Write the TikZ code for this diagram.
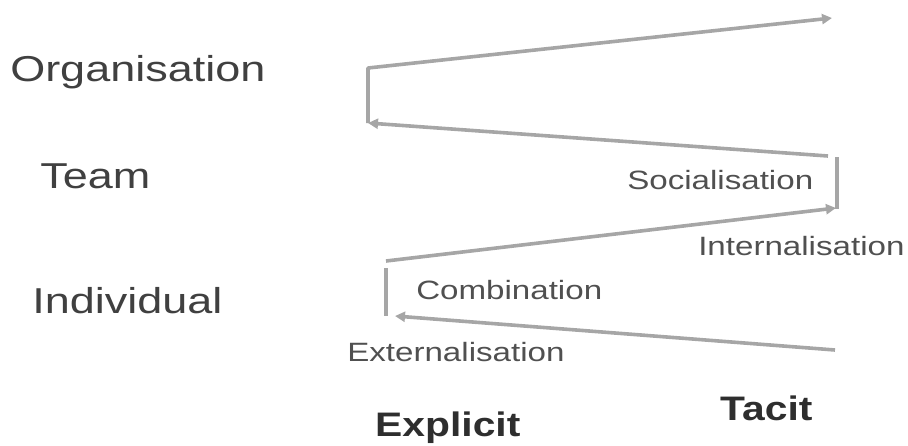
\documentclass[tikz,border=0pt]{standalone}
\usepackage{fontspec}
\setmainfont{Liberation Sans}
\usetikzlibrary{arrows.meta}
\definecolor{flowgray}{HTML}{A6A6A6}
\definecolor{labelgray}{HTML}{404040}
\definecolor{smallgray}{HTML}{505050}
\definecolor{axisdark}{HTML}{2E2E2E}
\tikzset{
  levellabel/.style={anchor=base west, inner sep=0pt, xscale=1.25, text=labelgray,
    font=\fontsize{36}{40}\selectfont},
  modelabel/.style={anchor=base west, inner sep=0pt, xscale=1.25, text=smallgray,
    font=\fontsize{26.5}{30}\selectfont},
  axislabel/.style={anchor=base west, inner sep=0pt, xscale=1.2, text=axisdark,
    font=\bfseries\fontsize{34}{38}\selectfont},
  flow/.style={draw=flowgray, line width=3.6pt, line join=round},
  flowarrow/.style={flow, -{Triangle[length=10pt,width=10pt]}},
}
\begin{document}
\begin{tikzpicture}[x=1pt, y=-1pt]
  \useasboundingbox (0,0) rectangle (908,445);

  % knowledge levels
  \node[levellabel] (org) at (10,81) {Organisation};
  \node[levellabel] (team) at (40,188) {Team};
  \node[levellabel] (ind) at (32,313) {Individual};

  % conversion modes
  \node[modelabel] (soc) at (627,189) {Socialisation};
  \node[modelabel] (int) at (698,255.5) {Internalisation};
  \node[modelabel] (comb) at (416,299.5) {Combination};
  \node[modelabel] (ext) at (347,361.5) {Externalisation};

  % knowledge types
  \node[axislabel] (expl) at (375,436) {Explicit};
  \node[axislabel] (tac) at (720,420) {Tacit};

  % corners of the spiral
  \coordinate (topcorner) at (368,68);
  \coordinate (toptip) at (832,18);
  \coordinate (orgleft) at (368,123);
  \coordinate (teamright) at (828,156);
  \coordinate (rbartop) at (837,157);
  \coordinate (rbarbot) at (837,209);
  \coordinate (midstart) at (386,261);
  \coordinate (midtip) at (836,208);
  \coordinate (lbartop) at (386,268);
  \coordinate (lbarbot) at (386,316);
  \coordinate (botstart) at (835,350);
  \coordinate (bottip) at (395,316);

  % spiral, bottom to top
  \draw[flowarrow] (botstart) -- (bottip);
  \draw[flow] (lbartop) -- (lbarbot);
  \draw[flowarrow] (midstart) -- (midtip);
  \draw[flow] (rbartop) -- (rbarbot);
  \draw[flowarrow] (teamright) -- (orgleft);
  \draw[flowarrow] (orgleft) -- (topcorner) -- (toptip);
\end{tikzpicture}
\end{document}
